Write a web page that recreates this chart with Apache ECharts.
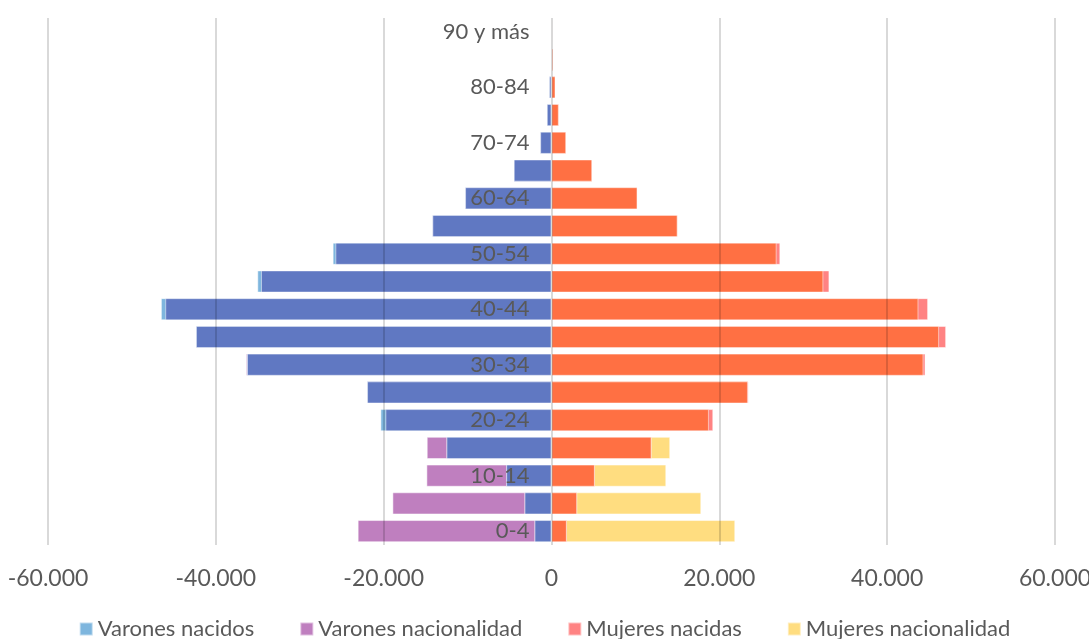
<!DOCTYPE html>
<html>
<head>
<meta charset="utf-8">
<script src="https://cdn.jsdelivr.net/npm/echarts@6/dist/echarts.min.js"></script>
<style>
html,body{margin:0;padding:0;background:#fff;}
#chart{width:1089px;height:639px;}
</style>
</head>
<body>
<div id="chart"></div>
<script>
const categories = ['0-4','5-9','10-14','15-19','20-24','25-29','30-34','35-39','40-44','45-49','50-54','55-59','60-64','65-69','70-74','75-79','80-84','85-89','90 y más'];
const varonesNacidos      = [2030, 3220, 5400, 12520, 20390, 21980, 36290, 42370, 46550, 35060, 26080, 14200, 10300, 4500, 1350, 560, 280, 90, 40];
const varonesNacionalidad = [23100, 18960, 14910, 14870, 19800, 21980, 36410, 42370, 46030, 34620, 25760, 14200, 10300, 4500, 1350, 560, 280, 90, 40];
const mujeresNacidas      = [1830, 3060, 5170, 11930, 19280, 23490, 44570, 47030, 44880, 33120, 27270, 15030, 10250, 4850, 1750, 870, 480, 200, 120];
const mujeresNacionalidad = [21900, 17850, 13680, 14150, 18760, 23410, 44330, 46190, 43730, 32400, 26830, 15030, 10250, 4850, 1750, 870, 480, 200, 120];
const xTicks = {min: -60000, max: 60000, interval: 20000};

const FONT = 'Lato, "Open Sans", sans-serif';
const TXT = '#595959';
const neg = a => a.map(v => -v);
const overlap = (a, b) => a.map((v, i) => Math.min(v, b[i]));

function bar(name, data, color) {
  return {
    name: name, type: 'bar', data: data, barGap: '-100%', barCategoryGap: '20%',
    itemStyle: {color: color, borderColor: 'rgba(255,255,255,0.5)', borderWidth: 1},
    emphasis: {disabled: true}, silent: true
  };
}

const GRID_LEFT = 48, GRID_RIGHT = 34;
const plotW = 1089 - GRID_LEFT - GRID_RIGHT;
const zeroOffset = plotW * (0 - xTicks.min) / (xTicks.max - xTicks.min);

const chart = echarts.init(document.getElementById('chart'), null, {renderer: 'canvas'});
chart.setOption({
  animation: false,
  textStyle: {fontFamily: FONT},
  grid: {left: GRID_LEFT, right: GRID_RIGHT, top: 18, bottom: 94, containLabel: false, outerBoundsMode: 'none'},
  legend: {
    data: ['Varones nacidos', 'Varones nacionalidad', 'Mujeres nacidas', 'Mujeres nacionalidad'],
    top: 613, left: 'center', icon: 'rect', itemWidth: 13, itemHeight: 13, itemGap: 45,
    textStyle: {fontFamily: FONT, fontSize: 22, color: TXT}
  },
  xAxis: {
    type: 'value', min: xTicks.min, max: xTicks.max, interval: xTicks.interval, z: 3,
    axisLine: {show: false}, axisTick: {show: false},
    splitLine: {show: true, lineStyle: {color: 'rgba(0,0,0,0.15)', width: 2}},
    axisLabel: {
      fontFamily: FONT, fontSize: 23, color: TXT, margin: 22,
      formatter: v => v === 0 ? '0' : (v < 0 ? '-' : '') + String(Math.abs(v)).replace(/\B(?=(\d{3})+(?!\d))/g, '.')
    }
  },
  yAxis: {
    type: 'category', data: categories, z: 10, position: 'left', offset: -zeroOffset,
    axisLine: {show: false, onZero: false}, axisTick: {show: false},
    axisLabel: {interval: 1, fontFamily: FONT, fontSize: 22, color: TXT, margin: 22}
  },
  series: [
    bar('Varones nacionalidad', neg(varonesNacionalidad), '#BF7FBF'),
    bar('Varones nacidos', neg(varonesNacidos), '#7EB6DE'),
    bar('Varones ambos', neg(overlap(varonesNacidos, varonesNacionalidad)), '#6078C2'),
    bar('Mujeres nacionalidad', mujeresNacionalidad, '#FFDD80'),
    bar('Mujeres nacidas', mujeresNacidas, '#FF8383'),
    bar('Mujeres ambas', overlap(mujeresNacidas, mujeresNacionalidad), '#FF7043')
  ]
});
</script>
</body>
</html>
